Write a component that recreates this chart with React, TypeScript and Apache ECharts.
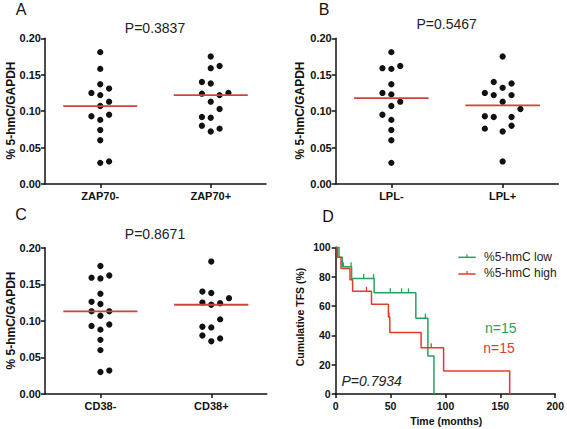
import React, { useEffect, useRef } from "react";
import * as echarts from "echarts";

// ---------- Data ----------
const panelACats = ["ZAP70-", "ZAP70+"];
const zapNegValues = [0.181, 0.158, 0.137, 0.131, 0.125, 0.122, 0.113, 0.107, 0.093, 0.095, 0.088, 0.074, 0.060, 0.029, 0.031];
const zapNegSlots = [0, 0, 0, 1, -1, 0, 1, 0, -1, 1, 0, 0, 0, 0, 1];
const zapPosValues = [0.175, 0.159, 0.162, 0.140, 0.138, 0.124, 0.122, 0.125, 0.113, 0.103, 0.092, 0.091, 0.080, 0.076, 0.072];
const zapPosSlots = [0, 0, 1, -1, 0, -1, 1, 2, 0, 1, -1, 0, -1, 1, 0];
const pA = "P=0.3837";

const panelBCats = ["LPL-", "LPL+"];
const lplNegValues = [0.181, 0.159, 0.158, 0.162, 0.137, 0.125, 0.123, 0.113, 0.107, 0.095, 0.088, 0.074, 0.060, 0.029];
const lplNegSlots = [0, -1, 0, 1, 0, -1, 0, 1, 0, -1, 0, 0, 0, 0];
const lplPosValues = [0.175, 0.140, 0.138, 0.132, 0.125, 0.122, 0.122, 0.113, 0.103, 0.093, 0.092, 0.092, 0.076, 0.080, 0.072, 0.031];
const lplPosSlots = [0, -1, 1, 0, -2, -1, 1, 0, 2, -2, -1, 1, -2, 1, 0, 0];
const pB = "P=0.5467";

const panelCCats = ["CD38-", "CD38+"];
const cdNegValues = [0.175, 0.159, 0.158, 0.162, 0.137, 0.126, 0.123, 0.113, 0.113, 0.107, 0.093, 0.095, 0.088, 0.074, 0.060, 0.030, 0.032];
const cdNegSlots = [0, -1, 0, 1, 0, -1, 0, -1, 1, 0, -1, 1, 0, 0, 0, 0, 1];
const cdPosValues = [0.181, 0.140, 0.138, 0.125, 0.122, 0.124, 0.131, 0.102, 0.092, 0.091, 0.080, 0.076, 0.072];
const cdPosSlots = [0, -1, 0, -1, 0, 1, 2, 1, -1, 0, -1, 1, 0];
const pC = "P=0.8671";

const yTicksScatter = [0, 0.05, 0.1, 0.15, 0.2];

// Kaplan-Meier (panel D)
const lowName = "%5-hmC low";
const lowTimes = [0, 3, 6, 14.5, 35, 73, 84, 89.5];
const lowSurv = [100, 93.3, 86.7, 78.8, 69.0, 51.7, 25.9, 0];
const lowCensor = [7, 14, 25.5, 34.5, 49.7, 60, 66.3, 81.7];
const highName = "%5-hmC high";
const highTimes = [0, 1.5, 4.8, 13, 15.4, 32.6, 48, 49.3, 77.8, 98.3, 158.5];
const highSurv = [100, 93.3, 85.6, 77.8, 70.0, 61.25, 52.5, 42.0, 31.5, 15.75, 0];
const highCensor = [28, 48.5, 87];
const nLow = "n=15";
const nHigh = "n=15";
const pD = "P=0.7934";

// ---------- Styles ----------
const FONT = 'Arial, "Liberation Sans", Helvetica, sans-serif';
const INK = "#111";
const GREEN = "#22a35e";
const RED = "#e33b2b";
const MED = "#cf4436";
const SLOT = 0.08;
const MED_HALF = 0.335;

function median(arr: number[]) {
  const s = [...arr].sort((a, b) => a - b);
  const n = s.length;
  return n % 2 ? s[(n - 1) / 2] : (s[n / 2 - 1] + s[n / 2]) / 2;
}

function survAt(times: number[], surv: number[], t: number) {
  let s = surv[0];
  for (let i = 0; i < times.length; i++) if (times[i] <= t) s = surv[i];
  return s;
}

const grids = [
  { left: 45, top: 38.3, width: 221, height: 145.7 },
  { left: 335.7, top: 38.3, width: 222.6, height: 145.7 },
  { left: 45, top: 247.7, width: 221.7, height: 146.3 },
  { left: 335.7, top: 247.3, width: 221, height: 146.7 },
];

const axisLineStyle = { color: INK, width: 1.5 };

function scatterX(idx: number, cats: string[]) {
  return {
    gridIndex: idx,
    type: "value",
    min: 0,
    max: 2,
    axisLine: { show: true, onZero: false, lineStyle: axisLineStyle },
    axisTick: { show: true, customValues: [0.5, 1.5], length: 4, lineStyle: axisLineStyle },
    axisLabel: {
      customValues: [0.5, 1.5],
      formatter: (v: number) => (v < 1 ? cats[0] : cats[1]),
      fontFamily: FONT,
      fontWeight: "bold",
      fontSize: 11,
      color: INK,
      margin: 6,
    },
    splitLine: { show: false },
  };
}

function scatterY(idx: number) {
  return {
    gridIndex: idx,
    type: "value",
    min: yTicksScatter[0],
    max: yTicksScatter[yTicksScatter.length - 1],
    interval: 0.05,
    axisLine: { show: true, onZero: false, lineStyle: axisLineStyle },
    axisTick: { show: true, length: 4, lineStyle: axisLineStyle },
    axisLabel: {
      formatter: (v: number) => v.toFixed(2),
      fontFamily: FONT,
      fontWeight: "bold",
      fontSize: 11,
      color: INK,
      margin: 4,
    },
    splitLine: { show: false },
  };
}

function scatterSeries(idx: number, groups: { values: number[]; slots: number[] }[]) {
  const out: any[] = [];
  groups.forEach((g, gi) => {
    const center = gi + 0.5;
    out.push({
      type: "scatter",
      xAxisIndex: idx,
      yAxisIndex: idx,
      symbol: "circle",
      symbolSize: 6.3,
      itemStyle: { color: INK, opacity: 1 },
      data: g.values.map((v, i) => [center + g.slots[i] * SLOT, v]),
      z: 3,
    });
    const m = median(g.values);
    out.push({
      type: "line",
      xAxisIndex: idx,
      yAxisIndex: idx,
      symbol: "none",
      lineStyle: { color: MED, width: 1.8 },
      data: [
        [center - MED_HALF, m],
        [center + MED_HALF, m],
      ],
      z: 4,
    });
  });
  return out;
}

function txt(text: string, x: number, y: number, size: number, extra: any = {}) {
  return {
    type: "text",
    x,
    y,
    rotation: extra.rotation || 0,
    style: {
      text,
      fill: extra.color || INK,
      font: `${extra.italic ? "italic " : ""}${extra.bold ? "bold " : ""}${size}px ${FONT}`,
      textAlign: extra.align || "center",
      textVerticalAlign: "middle",
    },
    z: 10,
  };
}

export default function App() {
  const ref = useRef<HTMLDivElement>(null);

  useEffect(() => {
    if (!ref.current) return;
    const chart = echarts.init(ref.current, null, { renderer: "svg" });

    const kmLine = (name: string, times: number[], surv: number[], color: string) => ({
      type: "line",
      name,
      xAxisIndex: 3,
      yAxisIndex: 3,
      step: "end",
      symbol: "none",
      lineStyle: { color, width: 1.5 },
      data: times.map((t, i) => [t, surv[i]]),
      z: 3,
    });
    const kmCensor = (times: number[], surv: number[], cens: number[], color: string) => ({
      type: "scatter",
      xAxisIndex: 3,
      yAxisIndex: 3,
      symbol: "rect",
      symbolSize: [1.3, 4.5],
      symbolOffset: [0, -2.2],
      itemStyle: { color, opacity: 1 },
      data: cens.map((t) => [t, survAt(times, surv, t)]),
      z: 4,
    });

    const option: any = {
      animation: false,
      backgroundColor: "#ffffff",
      grid: grids,
      xAxis: [
        scatterX(0, panelACats),
        scatterX(1, panelBCats),
        scatterX(2, panelCCats),
        {
          gridIndex: 3,
          type: "value",
          min: 0,
          max: 200,
          interval: 50,
          axisLine: { show: true, onZero: false, lineStyle: axisLineStyle },
          axisTick: { show: true, length: 4, lineStyle: axisLineStyle },
          axisLabel: { fontFamily: FONT, fontWeight: "bold", fontSize: 10.5, color: INK, margin: 6 },
          splitLine: { show: false },
        },
      ],
      yAxis: [
        scatterY(0),
        scatterY(1),
        scatterY(2),
        {
          gridIndex: 3,
          type: "value",
          min: 0,
          max: 100,
          interval: 20,
          axisLine: { show: true, onZero: false, lineStyle: axisLineStyle },
          axisTick: { show: true, length: 4, lineStyle: axisLineStyle },
          axisLabel: { fontFamily: FONT, fontWeight: "bold", fontSize: 10.5, color: INK, margin: 5 },
          splitLine: { show: false },
        },
      ],
      series: [
        ...scatterSeries(0, [
          { values: zapNegValues, slots: zapNegSlots },
          { values: zapPosValues, slots: zapPosSlots },
        ]),
        ...scatterSeries(1, [
          { values: lplNegValues, slots: lplNegSlots },
          { values: lplPosValues, slots: lplPosSlots },
        ]),
        ...scatterSeries(2, [
          { values: cdNegValues, slots: cdNegSlots },
          { values: cdPosValues, slots: cdPosSlots },
        ]),
        kmLine(lowName, lowTimes, lowSurv, GREEN),
        kmLine(highName, highTimes, highSurv, RED),
        kmCensor(lowTimes, lowSurv, lowCensor, GREEN),
        kmCensor(highTimes, highSurv, highCensor, RED),
      ],
      graphic: [
        // panel letters
        txt("A", 21, 9, 16),
        txt("B", 324, 9, 16),
        txt("C", 21, 214, 16),
        txt("D", 328, 216, 16),
        // P values
        txt(pA, 155, 27.5, 14, { color: "#222" }),
        txt(pB, 446.7, 23.5, 14, { color: "#222" }),
        txt(pC, 155, 233.5, 14, { color: "#222" }),
        txt(pD, 371.7, 381, 14, { italic: true, color: "#222" }),
        // y axis titles
        txt("% 5-hmC/GAPDH", 10.5, 110.5, 12, { bold: true, rotation: Math.PI / 2 }),
        txt("% 5-hmC/GAPDH", 299.5, 110.5, 12, { bold: true, rotation: Math.PI / 2 }),
        txt("% 5-hmC/GAPDH", 10.5, 320.5, 12, { bold: true, rotation: Math.PI / 2 }),
        txt("Cumulative TFS (%)", 300, 317, 10.5, { bold: true, rotation: Math.PI / 2 }),
        txt("Time (months)", 446.3, 420.5, 10.5, { bold: true }),
        // legend
        { type: "line", shape: { x1: 458.3, y1: 257.3, x2: 475.7, y2: 257.3 }, style: { stroke: GREEN, lineWidth: 1.5 }, z: 10 },
        { type: "line", shape: { x1: 467, y1: 257.3, x2: 467, y2: 254.3 }, style: { stroke: GREEN, lineWidth: 1.2 }, z: 10 },
        txt(lowName, 484, 256.7, 12, { align: "left", color: "#222" }),
        { type: "line", shape: { x1: 458.3, y1: 274, x2: 475.7, y2: 274 }, style: { stroke: RED, lineWidth: 1.5 }, z: 10 },
        { type: "line", shape: { x1: 467, y1: 274, x2: 467, y2: 271 }, style: { stroke: RED, lineWidth: 1.2 }, z: 10 },
        txt(highName, 484, 273.3, 12, { align: "left", color: "#222" }),
        // n labels
        txt(nLow, 485, 327.7, 14, { align: "left", color: GREEN }),
        txt(nHigh, 483.3, 348.3, 14, { align: "left", color: RED }),
      ],
    };

    chart.setOption(option);
    return () => chart.dispose();
  }, []);

  return (
    <div
      ref={ref}
      style={{ position: "absolute", left: 0, top: 0, width: 567, height: 429, background: "#fff" }}
    />
  );
}
